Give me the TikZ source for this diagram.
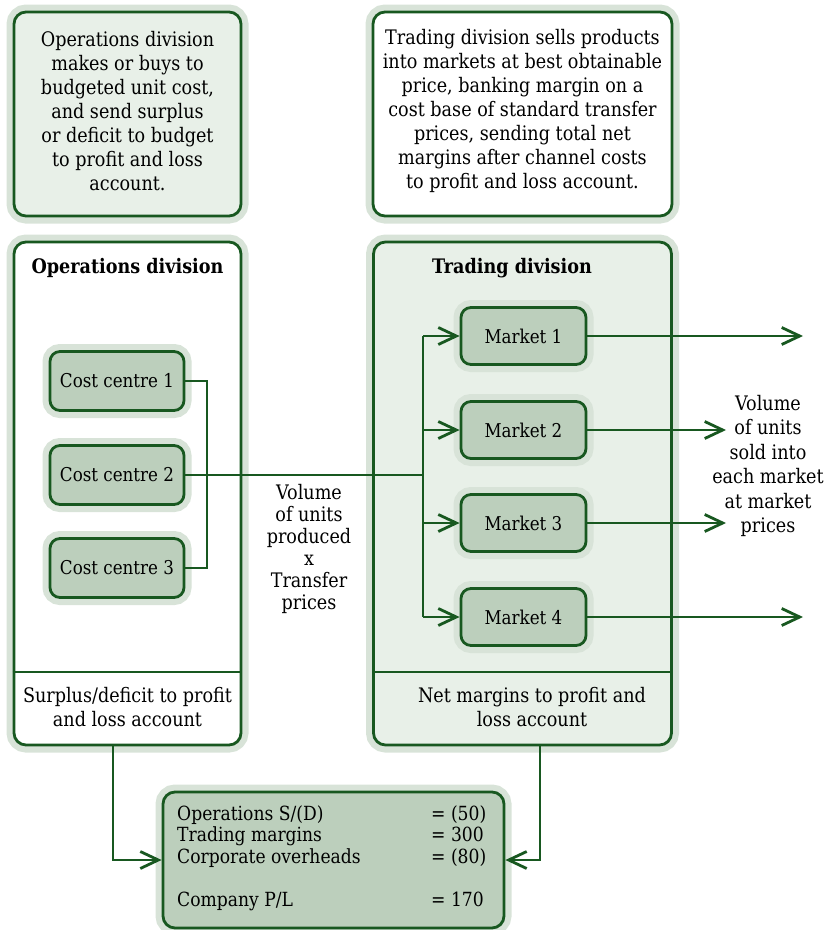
\documentclass[tikz,border=0pt]{standalone}
\usepackage{fontspec}
\setmainfont{DejaVu Serif}[FakeStretch=0.88]
\usetikzlibrary{arrows.meta}

\definecolor{dkgreen}{RGB}{24,88,32}
\definecolor{paleg}{RGB}{232,240,232}
\definecolor{midg}{RGB}{188,207,188}
\definecolor{halog}{RGB}{216,227,216}

\tikzset{
  halo/.style={preaction={draw=halog, line width=15pt}},
  panel/.style={draw=dkgreen, line width=2.8pt, rounded corners=12pt, halo, inner sep=0pt},
  note/.style={panel, minimum width=227pt, minimum height=204pt},
  division/.style={panel, minimum height=503pt},
  unit/.style={panel, fill=midg, rounded corners=10pt, minimum width=134pt, minimum height=59pt},
  market/.style={panel, fill=midg, rounded corners=10pt, minimum width=125pt, minimum height=57pt},
  txt/.style={font=\fontsize{20}{24}\selectfont, align=center, inner sep=0pt},
  boxlabel/.style={font=\fontsize{19}{24}\selectfont, inner sep=0pt},
  title/.style={font=\fontsize{20}{24}\selectfont\bfseries, inner sep=0pt},
  link/.style={draw=dkgreen, line width=2.8pt},
  arr/.style={link, -{Straight Barb[length=18pt, width=17pt]}},
}

\begin{document}
\begin{tikzpicture}[x=1pt, y=-1pt]
\useasboundingbox (0,0) rectangle (830,930);

% explanatory notes
\node[note, fill=paleg] (opsnote) at (127.5,114) {};
\node[txt] at (127.5,111) {Operations division\\makes or buys to\\budgeted unit cost,\\and send surplus\\or deficit to budget\\to profit and loss\\account.};
\node[note, fill=white, minimum width=299pt] (tradenote) at (522.5,114) {};
\node[txt] at (522.5,111) {Trading division sells products\\into markets at best obtainable\\price, banking margin on a\\cost base of standard transfer\\prices, sending total net\\margins after channel costs\\to profit and loss account.};

% divisions
\node[division, fill=white, minimum width=227pt] (ops) at (127.5,493.5) {};
\node[division, fill=paleg, minimum width=298pt] (trade) at (522.5,493.5) {};
\coordinate (divy) at (0,672);
\draw[link] (ops.west |- divy) -- (ops.east |- divy);
\draw[link] (trade.west |- divy) -- (trade.east |- divy);
\node[title] (opstitle) at (127.5,268) {Operations division};
\node[title] (tradetitle) at (512,268) {Trading division};
\node[txt] (opsout) at (127.5,707) {Surplus/deficit to profit\\and loss account};
\node[txt] (tradeout) at (532,707) {Net margins to profit and\\loss account};

% cost centres
\node[unit] (cc1) at (117,381) {};
\node[boxlabel] at (cc1) {Cost centre 1};
\node[unit] (cc2) at (117,475) {};
\node[boxlabel] at (cc2) {Cost centre 2};
\node[unit] (cc3) at (117,568) {};
\node[boxlabel] at (cc3) {Cost centre 3};

% markets
\node[market] (m1) at (523.5,336) {};
\node[boxlabel] at (m1) {Market 1};
\node[market] (m2) at (523.5,430) {};
\node[boxlabel] at (m2) {Market 2};
\node[market] (m3) at (523.5,523) {};
\node[boxlabel] at (m3) {Market 3};
\node[market] (m4) at (523.5,617) {};
\node[boxlabel] at (m4) {Market 4};

% profit and loss summary
\node[panel, fill=midg, minimum width=341pt, minimum height=136pt] (pl) at (333.5,860) {};
\node[anchor=base west, inner sep=0pt, font=\fontsize{19.5}{21.5}\selectfont] (pltext) at (177,820)
  {\begin{tabular}[t]{@{}p{254pt}@{}l@{}}
   Operations S/(D) & = (50)\\
   Trading margins & = 300\\
   Corporate overheads & = (80)\\[22pt]
   Company P/L & = 170
   \end{tabular}};

% flows
\coordinate (bus) at (207,0);
\coordinate (trunk) at (423,0);
\coordinate (far) at (803,0);
\coordinate (near) at (726,0);
\coordinate (lx) at (113,0);
\coordinate (rx) at (540,0);

\draw[link] (cc1.east) -| (bus |- cc3.east) -- (cc3.east);
\draw[link] (cc2.east) -- (cc2.east -| trunk);
\draw[link] (trunk |- m1.west) -- (trunk |- m4.west);
\foreach \m in {m1,m2,m3,m4}
  \draw[arr] (trunk |- \m.west) -- (\m.west);
\draw[arr] (m1.east) -- (m1.east -| far);
\draw[arr] (m2.east) -- (m2.east -| near);
\draw[arr] (m3.east) -- (m3.east -| near);
\draw[arr] (m4.east) -- (m4.east -| far);
\draw[arr] (lx |- ops.south) |- (pl.west);
\draw[arr] (rx |- trade.south) |- (pl.east);

\node[txt, font=\fontsize{20}{22}\selectfont] (volin) at (309,549) {Volume\\of units\\produced\\x\\Transfer\\prices};
\node[txt, font=\fontsize{20}{24.5}\selectfont] (volout) at (768,466) {Volume\\of units\\sold into\\each market\\at market\\prices};
\end{tikzpicture}
\end{document}
